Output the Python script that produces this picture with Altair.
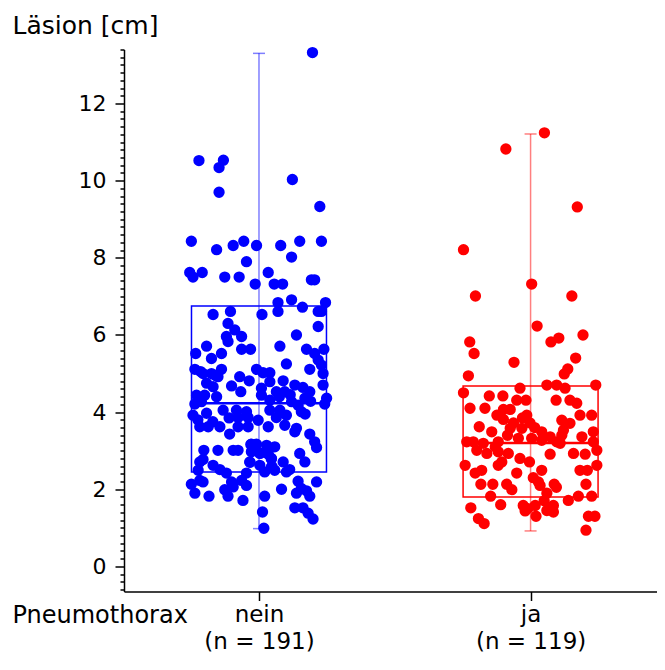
import json
import altair as alt
import pandas as pd

# ---------------- data ----------------
groups = ["nein", "ja"]
counts = [191, 119]
colors = ["#0000ff", "#ff0000"]

# box-plot statistics (cm)
q1 = [2.45, 1.80]
median = [4.23, 3.20]
q3 = [6.75, 4.68]
whisker_lo = [0.98, 0.92]
whisker_hi = [13.30, 11.21]

y_major = [0, 2, 4, 6, 8, 10, 12]
y_domain = [-0.65, 13.4]

nein_values = [
    13.32, 10.52, 10.53, 10.34, 10.03, 9.70, 9.33,
    8.43, 8.21, 8.32, 8.43, 8.32, 8.32, 8.02, 8.43, 8.43,
    7.90, 7.62, 7.50, 7.62, 7.50, 7.50, 7.62, 7.32, 7.32, 7.32, 7.43, 7.43,
    6.84, 6.91, 6.72, 6.84, 6.53, 6.61, 6.53, 6.61, 6.61, 6.61,
    6.30, 6.13, 6.22, 5.96, 5.96, 6.00,
    5.83, 5.71, 5.71, 5.63, 5.63, 5.63, 5.63, 5.52, 5.52, 5.52,
    5.39, 5.35, 5.25, 5.22, 5.11, 5.11, 5.11, 5.11, 5.00, 5.00,
    5.02, 5.02, 5.00, 4.92, 4.92, 4.75, 4.81, 4.79, 4.81, 4.70,
    4.70, 4.68, 4.66, 4.62, 4.64, 4.53, 4.53, 4.53, 4.53, 4.44,
    4.44, 4.40, 4.44, 4.36, 4.36, 4.21, 4.27, 4.31, 4.27, 4.18,
    4.21, 3.92, 3.97, 4.05, 4.05, 4.01, 4.05, 4.05, 4.01, 3.86,
    3.86, 3.79, 3.86, 3.92, 3.62, 3.62, 3.62, 3.62, 3.62, 3.66,
    3.58,
    3.62, 3.43, 3.49, 3.43, 3.23, 3.08, 3.01, 3.01, 3.01, 3.01,
    3.17, 3.17, 3.14, 3.10, 2.97, 2.93, 2.93, 2.93, 2.71, 2.77,
    2.71, 2.62, 2.71, 2.62, 2.80, 2.58, 2.71, 2.49, 2.51, 2.42,
    2.42, 2.45, 2.49, 2.45, 2.51, 2.23, 2.19, 2.23, 2.10, 2.13,
    2.19, 2.21, 2.19, 1.99, 2.06, 2.00, 2.02, 1.96, 1.90, 1.90,
    1.82, 1.82, 1.71, 1.82, 1.82, 1.41, 1.52, 1.52, 1.38, 1.23,
    0.99,
    3.16, 2.94, 2.92, 2.79, 2.70, 2.59, 5.05, 4.95, 3.80, 3.75,
    3.85, 4.40, 4.45, 4.28, 3.95,
]
nein_jitter = [
    0.197, -0.221, -0.131, -0.147, 0.123, -0.147, 0.224,
    -0.249, -0.156, -0.095, -0.056, -0.009, 0.080, 0.120, 0.150, 0.230,
    -0.046, -0.255, -0.243, -0.209, -0.126, -0.073, 0.034, -0.014, 0.056, 0.087, 0.193, 0.205,
    0.070, 0.120, 0.160, 0.245, -0.169, -0.105, 0.011, 0.070, 0.218, 0.230,
    -0.114, -0.089, 0.218, -0.120, -0.064, 0.138,
    -0.114, -0.193, 0.077, -0.064, -0.031, 0.175, 0.239, -0.233, -0.138, 0.205,
    -0.175, 0.218, 0.101, 0.230, -0.236, -0.138, -0.009, 0.187, -0.206, -0.175,
    0.015, 0.040, 0.236, -0.151, -0.071, -0.193, -0.036, 0.040, 0.089, 0.132,
    0.236, -0.101, -0.169, 0.009, 0.162, -0.067, 0.064, 0.095, 0.187, -0.230,
    -0.200, -0.156, 0.009, 0.169, 0.249, -0.236, -0.212, 0.040, 0.120, 0.144,
    0.242, -0.243, -0.193, -0.132, -0.083, -0.046, 0.040, 0.077, 0.156, -0.077,
    -0.040, -0.003, 0.064, 0.101, -0.218, -0.187, -0.144, -0.077, 0.034, 0.095,
    0.138,
    -0.040, -0.108, 0.132, 0.187, 0.205, 0.212, -0.203, -0.151, -0.095, -0.077,
    -0.028, -0.009, 0.028, 0.058, -0.028, 0.003, 0.034, 0.150, 0.169, -0.206,
    -0.218, -0.169, -0.034, 0.003, 0.046, 0.046, 0.089, -0.224, -0.144, -0.120,
    -0.046, 0.021, 0.058, 0.101, 0.113, -0.218, -0.101, -0.064, -0.046, -0.249,
    -0.206, 0.144, 0.212, -0.126, -0.095, 0.083, 0.156, 0.175, -0.236, 0.138,
    -0.184, -0.114, -0.059, 0.021, 0.187, 0.013, 0.132, 0.162, 0.181, 0.199,
    0.018,
    -0.030, 0.005, 0.032, 0.045, -0.033, 0.048, -0.215, -0.160, -0.225, -0.170,
    -0.110, 0.075, 0.115, 0.190, 0.170,
]

ja_values = [
    11.24, 10.82, 9.32, 8.21, 7.32, 7.01, 7.01, 6.23, 5.82, 5.82,
    5.92, 6.00, 5.52, 5.29, 5.40, 5.12, 4.99, 4.94,
    4.50, 4.62, 4.70, 4.70, 4.62, 4.70, 4.42, 4.42, 4.31, 4.31,
    4.31, 4.31, 4.23, 4.10, 4.10, 4.07, 4.07, 3.92, 3.92, 3.92,
    3.92, 3.81, 3.79, 3.71, 3.72, 3.72, 3.62, 3.58, 3.58, 3.49,
    3.49, 3.53, 3.49, 3.36, 3.40, 3.36, 3.23, 3.23, 3.23, 3.32,
    3.32, 3.27, 3.23, 3.23,
    3.19, 3.19, 3.01, 2.93, 2.97, 2.93, 2.80, 2.71, 2.91, 2.93,
    2.91, 3.01, 2.62, 2.62, 2.71, 2.62, 2.42, 2.49, 2.42, 2.49,
    2.49, 2.49, 2.30, 2.19, 2.13, 2.13, 2.13, 1.99, 2.10, 2.13,
    2.13, 1.90, 1.82, 1.71, 1.82, 1.82, 1.52, 1.60, 1.58, 1.44,
    1.58, 1.30, 1.45, 1.58, 1.41, 1.30, 1.30, 1.24, 1.11, 0.94,
    3.40, 3.85, 3.60, 3.10, 2.05, 1.50, 1.70,
]
ja_jitter = [
    0.051, -0.091, 0.172, -0.247, 0.004, -0.203, 0.152, 0.024, -0.224, 0.075,
    0.104, 0.193, -0.208, -0.061, 0.166, 0.137, 0.124, -0.229,
    -0.247, -0.039, 0.060, 0.096, 0.127, 0.240, -0.152, -0.102, -0.051, -0.017,
    0.094, 0.145, 0.170, -0.223, -0.168, -0.100, -0.075, -0.124, -0.014, 0.182,
    0.225, -0.100, 0.115, 0.145, -0.063, -0.002, -0.189, -0.075, -0.032, -0.143,
    0.041, 0.121, 0.231, 0.072, 0.115, 0.189, -0.235, -0.211, -0.119, -0.045,
    0.004, 0.041, 0.096, 0.231,
    -0.174, 0.109, -0.198, -0.161, -0.119, -0.082, -0.039, -0.004, 0.072, 0.158,
    0.201, 0.244, -0.241, -0.119, -0.106, 0.244, -0.204, -0.180, -0.051, 0.041,
    0.182, 0.209, 0.010, 0.029, -0.183, -0.139, -0.088, -0.069, 0.035, 0.087,
    0.204, 0.060, -0.147, 0.139, 0.176, 0.225, -0.220, -0.110, -0.027, -0.020,
    0.017, 0.020, 0.060, 0.084, 0.084, 0.213, 0.237, -0.192, -0.171, 0.204,
    -0.085, -0.030, 0.015, -0.130, 0.095, -0.010, 0.050,
]

# ---------------- tables ----------------
rows = []
for gi, (vals, jits) in enumerate([(nein_values, nein_jitter), (ja_values, ja_jitter)]):
    for v, j in zip(vals, jits):
        rows.append({"group": groups[gi], "pos": gi + 1, "jitter": j, "value": v})
points = pd.DataFrame(rows)

box = pd.DataFrame({
    "group": groups,
    "pos": [1, 2],
    "q1": q1, "median": median, "q3": q3,
    "lo": whisker_lo, "hi": whisker_hi,
})

# ---------------- scales / axes ----------------
FONT = "DejaVu Sans"
BOX_HALF = 0.2485

x_scale = alt.Scale(domain=[0.503, 2.4655], nice=False, zero=False)
y_scale = alt.Scale(domain=y_domain, nice=False, zero=False)

y_ticks = [round(-0.6 + 0.2 * k, 1) for k in range(71)]
is_major = f"indexof({json.dumps(y_major)}, round(datum.value * 10) / 10) >= 0"

x_label_expr = (
    f"datum.value == 1 ? {json.dumps([groups[0], f'(n = {counts[0]})'])} : "
    f"{json.dumps([groups[1], f'(n = {counts[1]})'])}"
)

x_axis = alt.Axis(
    values=[1, 2], labelExpr=x_label_expr, grid=False,
    tickSize=9, tickWidth=1.5, tickColor="black",
    domainColor="black", domainWidth=1.5,
    labelFont=FONT, labelFontSize=23, labelColor="black",
    labelLineHeight=27, labelPadding=3,
    labelFlush=False, labelOverlap=False,
    title="Pneumothorax", titleAngle=0, titleAlign="left",
    titleBaseline="alphabetic", titleX=-112, titleY=30.5,
    titleFont=FONT, titleFontSize=24, titleFontWeight="normal", titleColor="black",
)
y_axis = alt.Axis(
    values=y_ticks, grid=False,
    labelExpr=f"{is_major} ? format(round(datum.value), 'd') : ''",
    tickSize={"condition": {"test": is_major, "value": 9}, "value": 4},
    tickWidth=1.5, tickColor="black",
    domainColor="black", domainWidth=1.5,
    labelFont=FONT, labelFontSize=22, labelColor="black", labelPadding=9,
    labelFlush=False, labelOverlap=False,
    title="Läsion [cm]", titleAngle=0, titleAlign="left",
    titleBaseline="alphabetic", titleX=-112, titleY=-16,
    titleFont=FONT, titleFontSize=25, titleFontWeight="normal", titleColor="black",
)


def X(field):
    return alt.X(field, type="quantitative", scale=x_scale, axis=x_axis)


def Y(field):
    return alt.Y(field, type="quantitative", scale=y_scale, axis=y_axis)


color = alt.Color("group:N", scale=alt.Scale(domain=groups, range=colors), legend=None)

base_box = alt.Chart(box)

whisker = base_box.mark_rule(strokeWidth=1.5, opacity=0.5).encode(
    x=X("pos"), y=Y("lo"), y2="hi", color=color
)
caps = base_box.transform_fold(["lo", "hi"], as_=["end", "endval"]).mark_tick(
    orient="horizontal", size=12, thickness=1.5, opacity=0.5
).encode(x=X("pos"), y=Y("endval:Q"), color=color)

boxed = base_box.transform_calculate(
    xl=f"datum.pos - {BOX_HALF}", xr=f"datum.pos + {BOX_HALF}"
)
rect = boxed.mark_rect(filled=False, strokeWidth=1.5).encode(
    x=X("xl:Q"), x2="xr:Q", y=Y("q1"), y2="q3", color=color
)
med = boxed.mark_rule(strokeWidth=2.5).encode(
    x=X("xl:Q"), x2="xr:Q", y=Y("median"), color=color
)

pts = alt.Chart(points).transform_calculate(
    xj="datum.pos + datum.jitter"
).mark_circle(size=128, opacity=1).encode(
    x=X("xj:Q"), y=Y("value"), color=color
)

chart = alt.layer(whisker, caps, rect, med, pts).properties(
    width=533, height=542,
    padding={"left": 116, "top": 41.5, "right": 0, "bottom": 64.5},
    autosize=alt.AutoSizeParams(type="none"),
    background="white",
).configure_view(strokeWidth=0)

chart.save("out.html", embed_options={"renderer": "svg", "actions": False})
